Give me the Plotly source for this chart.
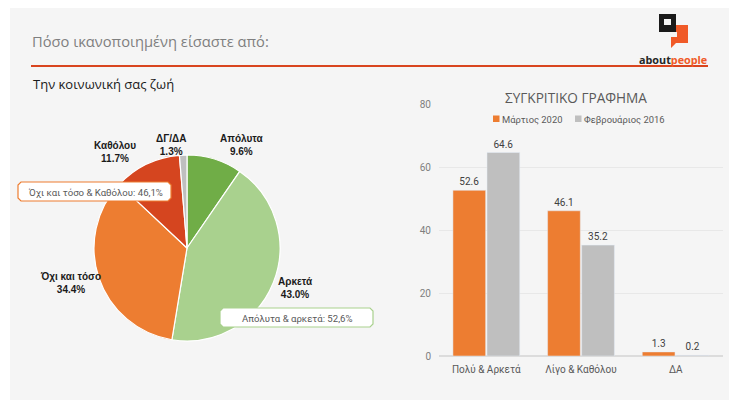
import plotly.graph_objects as go

W, H = 734, 410

# ── Data ──────────────────────────────────────────
pie_labels = ["Απόλυτα", "Αρκετά", "Όχι και τόσο", "Καθόλου", "ΔΓ/ΔΑ"]
pie_values = [9.6, 43.0, 34.4, 11.7, 1.3]
pie_colors = ["#70ad47", "#a9d18e", "#ed7d31", "#d5451f", "#bfbfbf"]

bar_categories = ["Πολύ & Αρκετά", "Λίγο & Καθόλου", "ΔΑ"]
series_names = ["Μάρτιος 2020", "Φεβρουάριος 2016"]
series_colors = ["#ed7d31", "#bfbfbf"]
march_2020 = [52.6, 46.1, 1.3]
february_2016 = [64.6, 35.2, 0.2]


def px_x(x):
    return x / W


def px_y(y):
    return 1 - y / H


def px_shape(x0, y0, x1, y1, color, layer="above"):
    return dict(type="rect", xref="paper", yref="paper", x0=px_x(x0), x1=px_x(x1), y0=px_y(y0), y1=px_y(y1),
                fillcolor=color, line=dict(width=0), layer=layer)


def px_path(points, color):
    path = "M" + " L".join(f"{px_x(x)},{px_y(y)}" for x, y in points) + " Z"
    return dict(type="path", xref="paper", yref="paper", path=path, fillcolor=color, line=dict(width=0))


def px_note(x, y, text, size, color, family="Roboto", xanchor="left"):
    return dict(xref="paper", yref="paper", x=px_x(x), y=px_y(y), text=text, showarrow=False, xanchor=xanchor,
                yanchor="middle", align="center", font=dict(size=size, color=color, family=family))


fig = go.Figure()

# ── Pie ───────────────────────────────────────────
fig.add_trace(go.Pie(
    labels=pie_labels,
    values=pie_values,
    sort=False,
    direction="clockwise",
    rotation=0,
    marker=dict(colors=pie_colors, line=dict(color="white", width=1.2)),
    textinfo="none",
    hoverinfo="label+percent",
    showlegend=False,
    domain=dict(x=[px_x(94), px_x(280)], y=[px_y(341), px_y(155)]),
))

# ── Bars ──────────────────────────────────────────
for name, color, values in zip(series_names, series_colors, [march_2020, february_2016]):
    fig.add_trace(go.Bar(
        name=name, x=bar_categories, y=values, marker_color=color, showlegend=False,
        text=[f"{v:.1f}" for v in values], textposition="outside", cliponaxis=False,
        textfont=dict(size=10, color="#404040", family="Roboto"),
    ))

# ── Panel, rule, logo, callouts ───────────────────
shapes = [
    px_shape(10, 8, 729, 400, "#f5f5f5", layer="below"),
    px_shape(31, 65, 708, 67, "#d9451f"),
    px_path([(659, 14), (676, 14), (676, 37), (671, 32), (659, 32)], "#1a1a1a"),
    px_path([(676, 25), (688, 25), (688, 43), (676, 43), (671, 48), (671, 37), (676, 37)], "#f05a28"),
    px_shape(671, 32, 677, 37, "#f5f5f5"),
    px_shape(664, 19, 671, 25, "#f5f5f5"),
    # legend swatches
    px_shape(493, 115.5, 499.5, 122, series_colors[0]),
    px_shape(575, 115.5, 581.5, 122, series_colors[1]),
]

for x0, y0, x1, y1, edge in [(18, 182, 171, 201, "#ed7d31"), (220, 308, 373, 327, "#a9d18e")]:
    r = 3
    points = [(x0 + r, y0), (x1 - r, y0), (x1, y0 + r), (x1, y1 - r), (x1 - r, y1), (x0 + r, y1), (x0, y1 - r), (x0, y0 + r)]
    box = px_path(points, "white")
    box["line"] = dict(color=edge, width=1.2)
    shapes.append(box)

bold = "Liberation Sans"
annotations = [
    px_note(30, 41, "Πόσο ικανοποιημένη είσαστε από:", 14.7, "#7f7f7f", "Open Sans"),
    px_note(31, 84, "Την κοινωνική σας ζωή", 13, "#1a1a1a", "Open Sans"),
    px_note(637, 59, "<b>about<span style='color:#f05a28'>people</span></b>", 10.8, "#262626", "Open Sans"),
    px_note(575.5, 97, "ΣΥΓΚΡΙΤΙΚΟ ΓΡΑΦΗΜΑ", 13.6, "#595959", "Open Sans", "center"),
    px_note(500, 119, series_names[0], 9.4, "#595959"),
    px_note(582, 119, series_names[1], 9.4, "#595959"),
    px_note(95, 192, "Όχι και τόσο & Καθόλου: 46,1%", 9.6, "#595959", xanchor="center"),
    px_note(297, 318, "Απόλυτα & αρκετά: 52,6%", 9.6, "#595959", xanchor="center"),
]

pie_label_spots = [(241, 145), (295, 288), (70, 283), (115, 152), (171, 145)]
for name, value, (lx, ly) in zip(pie_labels, pie_values, pie_label_spots):
    annotations.append(px_note(lx, ly, f"<b>{name}<br>{value:.1f}%</b>", 10, "#1a1a1a", bold, "center"))

fig.update_layout(
    width=W, height=H,
    margin=dict(l=0, r=0, t=0, b=0),
    paper_bgcolor="white",
    plot_bgcolor="rgba(0,0,0,0)",
    font=dict(family="Roboto"),
    barmode="group",
    bargap=0.28,
    bargroupgap=0.04,
    shapes=shapes,
    annotations=annotations,
    xaxis=dict(domain=[px_x(439), px_x(723)], showgrid=False, ticks="", showline=False, zeroline=False, automargin=False,
               ticklabelstandoff=6, tickfont=dict(size=10, color="#595959")),
    yaxis=dict(domain=[px_y(356), px_y(104)], range=[0, 80], dtick=20, anchor="x", automargin=False,
               gridcolor="#e8e8e8", zeroline=True, zerolinecolor="#dcdcdc", showline=False, ticks="",
               ticklabelstandoff=7, tickfont=dict(size=10, color="#7f7f7f")),
)

# body margin would push the figure past the window
fig.write_html("out.html", config={"displayModeBar": False}, post_script="document.body.style.margin='0';")
